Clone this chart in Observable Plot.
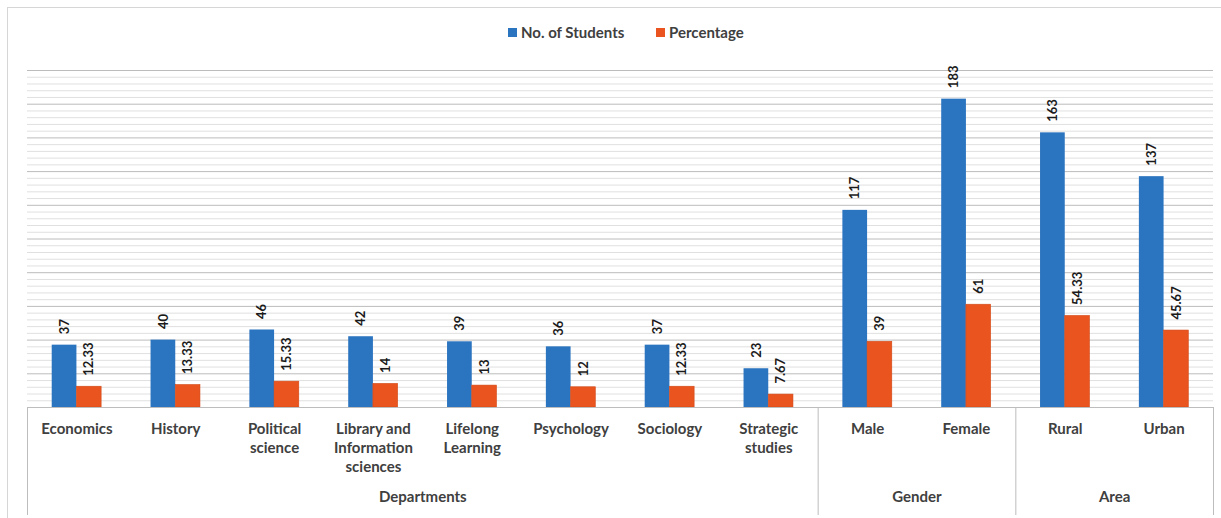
<!DOCTYPE html>
<html>
<head>
<meta charset="utf-8">
<script src="https://cdn.jsdelivr.net/npm/d3@7"></script>
<script src="https://cdn.jsdelivr.net/npm/@observablehq/plot@0.6"></script>
<style>
  html, body { margin: 0; padding: 0; background: #fff; overflow: hidden; }
  #frame { position: relative; margin: 7px 0 0 7px; width: 1214px; height: 511px;
           border-top: 1px solid #d6d6d6; border-left: 1px solid #d6d6d6; box-sizing: content-box; }
  #legend { height: 42px; position: relative; font-family: Lato, "Open Sans", sans-serif;
            font-weight: bold; font-size: 15px; color: #404040; }
  .item { position: absolute; top: 15px; display: flex; align-items: center; white-space: nowrap; }
  .sw { width: 9px; height: 9px; margin-right: 4px; display: inline-block; }
  #chart svg { display: block; }
</style>
</head>
<body>
<div id="frame">
  <div id="legend"></div>
  <div id="chart"></div>
</div>
<script>
// ---- data ----
const categories = ["Economics", "History", "Political\nscience", "Library and\nInformation\nsciences",
  "Lifelong\nLearning", "Psychology", "Sociology", "Strategic\nstudies", "Male", "Female", "Rural", "Urban"];
const students = [37, 40, 46, 42, 39, 36, 37, 23, 117, 183, 163, 137];
const percentage = [12.33, 13.33, 15.33, 14, 13, 12, 12.33, 7.67, 39, 61, 54.33, 45.67];
const groupNames = ["Departments", "Gender", "Area"];
const groupSizes = [8, 2, 2];
const seriesNames = ["No. of Students", "Percentage"];
const colors = ["#2b74c0", "#e9541f"];

// ---- derived tables ----
const rows = categories.map((c, i) => ({i, label: c, students: students[i], percentage: percentage[i]}));
let acc = 0;
const groups = groupNames.map((g, k) => { const s = acc; acc += groupSizes[k]; return {name: g, start: s, end: acc}; });
const bounds = [0, ...groups.map(g => g.end)];

// ---- legend ----
const legend = document.getElementById("legend");
const legendLefts = [500, 648];
seriesNames.forEach((s, k) => {
  const it = document.createElement("div");
  it.className = "item";
  it.style.left = legendLefts[k] + "px";
  it.innerHTML = `<span class="sw" style="background:${colors[k]}"></span><span>${s}</span>`;
  legend.appendChild(it);
});

// ---- chart ----
const majorTicks = d3.range(20, 201, 20);
const minorTicks = d3.range(4, 200, 4).filter(v => v % 20 !== 0);
const font = "Lato, 'Open Sans', sans-serif";

const chart = Plot.plot({
  width: 1213,
  height: 468,
  marginLeft: 19,
  marginRight: 8,
  marginTop: 20,
  marginBottom: 111,
  style: {fontFamily: font, background: "white", overflow: "visible"},
  x: {domain: [0, categories.length], axis: null},
  y: {domain: [0, 200], axis: null},
  marks: [
    Plot.ruleY(minorTicks, {stroke: "#e0e0e0", strokeWidth: 1}),
    Plot.ruleY(majorTicks, {stroke: "#bcbcbc", strokeWidth: 1}),
    Plot.rectY(rows, {x1: d => d.i + 0.25, x2: d => d.i + 0.5, y1: 0, y2: "students", fill: colors[0]}),
    Plot.rectY(rows, {x1: d => d.i + 0.5, x2: d => d.i + 0.75, y1: 0, y2: "percentage", fill: colors[1], stroke: "#d24a18", strokeWidth: 0.6}),
    Plot.ruleY([0], {stroke: "#bdbdbd"}),
    Plot.ruleX(bounds, {x: d => d, y1: 0, y2: 0, insetBottom: -108, stroke: "#bdbdbd"}),
    Plot.text(rows, {x: d => d.i + 0.375, y: "students", text: d => String(d.students), rotate: -90,
      textAnchor: "start", dy: -11, fontSize: 13, fontWeight: "bold", fill: "#1a1a1a"}),
    Plot.text(rows, {x: d => d.i + 0.625, y: "percentage", text: d => String(d.percentage), rotate: -90,
      textAnchor: "start", dy: -11, fontSize: 13, fontWeight: "bold", fill: "#1a1a1a"}),
    Plot.text(rows, {x: d => d.i + 0.5, y: 0, text: "label", lineAnchor: "top", dy: 13, lineHeight: 1.27,
      fontSize: 15, fontWeight: "bold", fill: "#404040"}),
    Plot.text(groups, {x: d => (d.start + d.end) / 2, y: 0, text: "name", lineAnchor: "middle", dy: 90,
      fontSize: 15, fontWeight: "bold", fill: "#404040"})
  ]
});
document.getElementById("chart").appendChild(chart);
</script>
</body>
</html>
